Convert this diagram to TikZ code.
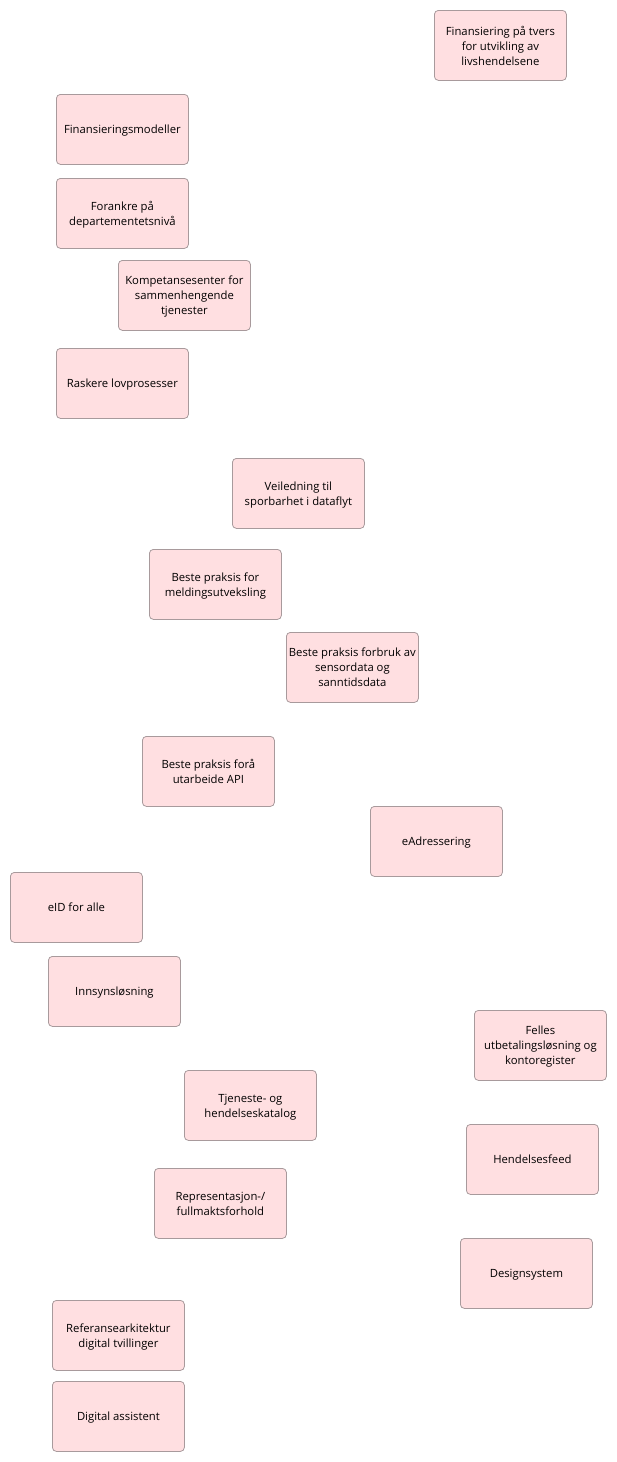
\documentclass[tikz,border=0pt]{standalone}
\usepackage{fontspec}
\setmainfont{Open Sans}
\definecolor{boxfill}{HTML}{FFDFE1}
\definecolor{boxline}{HTML}{A89A9C}
\tikzset{
  card/.style={draw=boxline, fill=boxfill, line width=0.8pt, rounded corners=4pt,
    minimum width=132pt, minimum height=70pt, align=center,
    inner sep=0pt, font=\fontsize{11.3}{15}\selectfont, anchor=north west,
    text depth=0pt}
}
\begin{document}
\begin{tikzpicture}[x=1pt,y=-1pt]
\useasboundingbox (0,0) rectangle (617,1462);
\node[card] (a) at (434,10) {Finansiering på tvers\\for utvikling av\\livshendelsene};
\node[card] (b) at (56,94) {Finansieringsmodeller};
\node[card] (c) at (56,178) {Forankre på\\departementetsnivå};
\node[card] (d) at (118,260) {Kompetansesenter for\\sammenhengende\\tjenester};
\node[card] (e) at (56,348) {Raskere lovprosesser};
\node[card] (f) at (232,458) {Veiledning til\\sporbarhet i dataflyt};
\node[card] (g) at (149,549) {Beste praksis for\\meldingsutveksling};
\node[card] (h) at (286,632) {Beste praksis forbruk av\\sensordata og\\sanntidsdata};
\node[card] (i) at (142,736) {Beste praksis forå\\utarbeide API};
\node[card] (j) at (370,806) {eAdressering};
\node[card] (k) at (10,872) {eID for alle};
\node[card] (l) at (48,956) {Innsynsløsning};
\node[card] (m) at (474,1010) {Felles\\utbetalingsløsning og\\kontoregister};
\node[card] (n) at (184,1070) {Tjeneste- og\\hendelseskatalog};
\node[card] (o) at (466,1124) {Hendelsesfeed};
\node[card] (p) at (154,1168) {Representasjon-/\\fullmaktsforhold};
\node[card] (q) at (460,1238) {Designsystem};
\node[card] (r) at (52,1300) {Referansearkitektur\\digital tvillinger};
\node[card] (s) at (52,1381) {Digital assistent};
\end{tikzpicture}
\end{document}
